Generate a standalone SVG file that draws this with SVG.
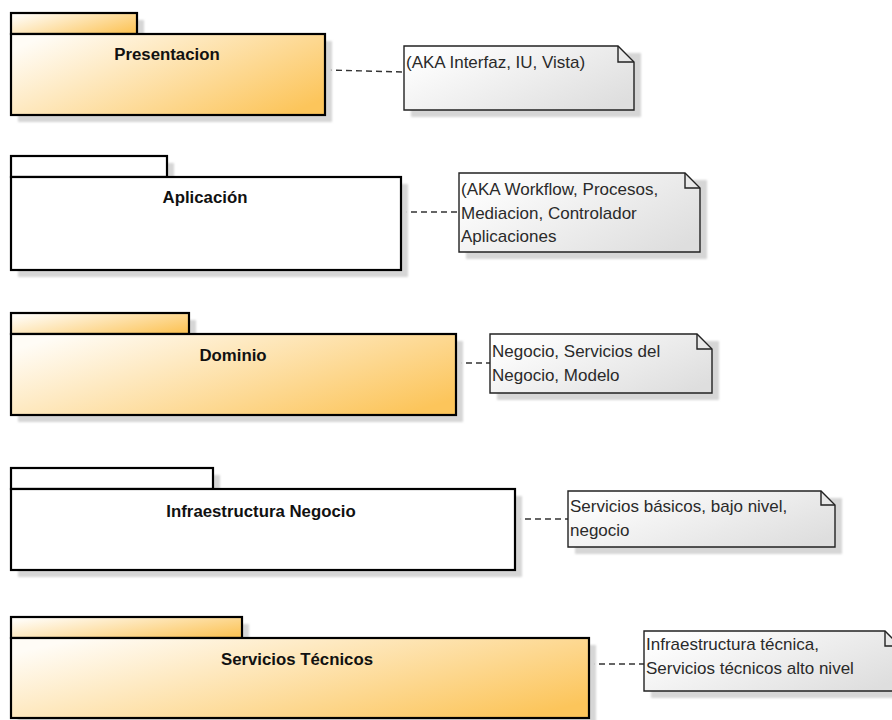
<svg xmlns="http://www.w3.org/2000/svg" width="892" height="720" viewBox="0 0 892 720">
  <defs>
    <linearGradient id="pkgFill" x1="0" y1="0.2" x2="1" y2="0.8">
      <stop offset="0" stop-color="#fffcf6"/>
      <stop offset="1" stop-color="#fcc55b"/>
    </linearGradient>
    <linearGradient id="noteFill" x1="0" y1="0.2" x2="1" y2="0.8">
      <stop offset="0" stop-color="#ffffff"/>
      <stop offset="1" stop-color="#dedede"/>
    </linearGradient>
    <filter id="soft" x="-5%" y="-5%" width="110%" height="110%">
      <feGaussianBlur stdDeviation="0.8"/>
    </filter>
  </defs>
  <style>
    .shadow { fill: #d6d6d6; filter: url(#soft); }
    .pkg-color { fill: url(#pkgFill); stroke: #000; stroke-width: 2.2; }
    .pkg-plain { fill: #ffffff; stroke: #000; stroke-width: 2.2; }
    .note { fill: url(#noteFill); stroke: #222; stroke-width: 1.4; stroke-linejoin: miter; }
    .fold { fill: none; stroke: #222; stroke-width: 1.4; }
    .label { font-family: "Liberation Sans", Arial, sans-serif; font-size: 16.8px; font-weight: bold; fill: #111; text-anchor: middle; }
    .ntext { font-family: "Liberation Sans", Arial, sans-serif; font-size: 17px; fill: #2a2a2a; }
    .link { stroke: #333; stroke-width: 1.4; stroke-dasharray: 6 4; fill: none; }
  </style>

  <rect width="892" height="720" fill="#ffffff"/>

  <!-- dashed links between each layer and its note -->
  <g id="connectors">
    <line class="link" x1="326" y1="70" x2="404" y2="72"/>
    <line class="link" x1="401" y1="212" x2="459" y2="212"/>
    <line class="link" x1="456" y1="363" x2="490" y2="363"/>
    <line class="link" x1="515" y1="519" x2="568" y2="519"/>
    <line class="link" x1="589" y1="664" x2="644" y2="664"/>
  </g>

  <!-- layer packages -->
  <g id="pkg-presentacion">
    <rect class="shadow" x="18" y="20" width="126" height="21"/>
    <rect class="shadow" x="18" y="41" width="314" height="81"/>
    <rect class="pkg-color" x="11" y="13" width="126" height="21"/>
    <rect class="pkg-color" x="11" y="34" width="314" height="81"/>
    <text class="label" x="167" y="60">Presentacion</text>
  </g>

  <g id="pkg-aplicacion">
    <rect class="shadow" x="18" y="163" width="156" height="21"/>
    <rect class="shadow" x="18" y="184" width="390" height="93"/>
    <rect class="pkg-plain" x="11" y="156" width="156" height="21"/>
    <rect class="pkg-plain" x="11" y="177" width="390" height="93"/>
    <text class="label" x="205" y="203">Aplicación</text>
  </g>

  <g id="pkg-dominio">
    <rect class="shadow" x="18" y="320" width="178" height="21"/>
    <rect class="shadow" x="18" y="341" width="445" height="81"/>
    <rect class="pkg-color" x="11" y="313" width="178" height="21"/>
    <rect class="pkg-color" x="11" y="334" width="445" height="81"/>
    <text class="label" x="233" y="361">Dominio</text>
  </g>

  <g id="pkg-infraestructura">
    <rect class="shadow" x="18" y="475" width="202" height="21"/>
    <rect class="shadow" x="18" y="496" width="504" height="81"/>
    <rect class="pkg-plain" x="11" y="468" width="202" height="21"/>
    <rect class="pkg-plain" x="11" y="489" width="504" height="81"/>
    <text class="label" x="261" y="517">Infraestructura Negocio</text>
  </g>

  <g id="pkg-servicios">
    <rect class="shadow" x="18" y="624" width="231" height="21"/>
    <rect class="shadow" x="18" y="645" width="578" height="81"/>
    <rect class="pkg-color" x="11" y="617" width="231" height="21"/>
    <rect class="pkg-color" x="11" y="638" width="578" height="80"/>
    <text class="label" x="297" y="665">Servicios Técnicos</text>
  </g>

  <!-- notes -->
  <g id="note-presentacion">
    <rect class="shadow" x="411" y="53" width="230" height="64"/>
    <path class="note" d="M404,46 H618 L634,62 V110 H404 Z"/>
    <path class="fold" d="M618,46 V62 H634"/>
    <text class="ntext" x="406" y="68">(AKA Interfaz, IU, Vista)</text>
  </g>

  <g id="note-aplicacion">
    <rect class="shadow" x="466" y="180" width="241" height="79"/>
    <path class="note" d="M459,173 H685 L700,188 V252 H459 Z"/>
    <path class="fold" d="M685,173 V188 H700"/>
    <text class="ntext" x="461" y="195">(AKA Workflow, Procesos,</text>
    <text class="ntext" x="461" y="218.5">Mediacion, Controlador</text>
    <text class="ntext" x="461" y="242">Aplicaciones</text>
  </g>

  <g id="note-dominio">
    <rect class="shadow" x="497" y="341" width="222" height="59"/>
    <path class="note" d="M490,334 H697 L712,349 V393 H490 Z"/>
    <path class="fold" d="M697,334 V349 H712"/>
    <text class="ntext" x="492" y="357">Negocio, Servicios del</text>
    <text class="ntext" x="492" y="381">Negocio, Modelo</text>
  </g>

  <g id="note-infraestructura">
    <rect class="shadow" x="575" y="498" width="267" height="56"/>
    <path class="note" d="M568,491 H821 L835,505 V547 H568 Z"/>
    <path class="fold" d="M821,491 V505 H835"/>
    <text class="ntext" x="570" y="512">Servicios básicos, bajo nivel,</text>
    <text class="ntext" x="570" y="535.5">negocio</text>
  </g>

  <g id="note-servicios">
    <rect class="shadow" x="651" y="638" width="256" height="60"/>
    <path class="note" d="M644,631 H885 L900,646 V691 H644 Z"/>
    <path class="fold" d="M885,631 V646 H900"/>
    <text class="ntext" x="646" y="650">Infraestructura técnica,</text>
    <text class="ntext" x="646" y="673.5">Servicios técnicos alto nivel</text>
  </g>
</svg>
